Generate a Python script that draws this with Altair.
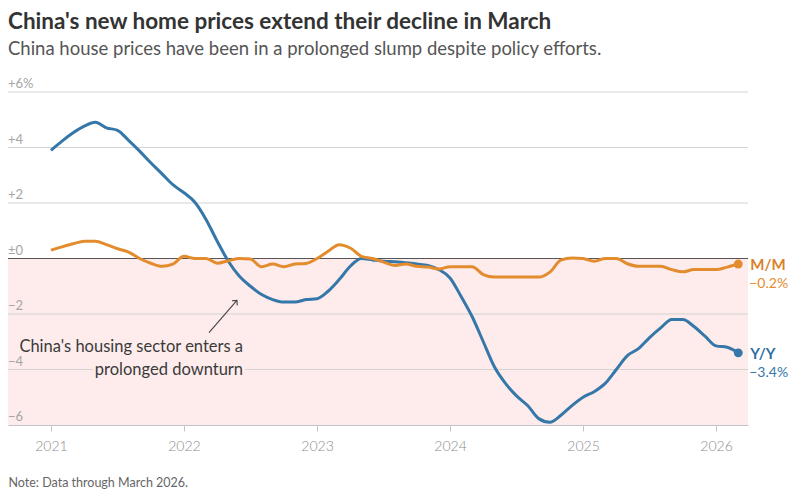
import altair as alt
import pandas as pd

# ---------------- data ----------------
start_year = 2021
yoy = [3.9, 4.23, 4.53, 4.77, 4.91, 4.71, 4.62, 4.26, 3.87, 3.45, 3.06, 2.66,
       2.37, 2.02, 1.4, 0.62, -0.1, -0.64, -1.0, -1.3, -1.48, -1.57, -1.57, -1.48,
       -1.45, -1.18, -0.76, -0.28, 0.0, -0.05, -0.1, -0.12, -0.15, -0.2, -0.25, -0.4,
       -0.7, -1.37, -2.1, -3.0, -3.9, -4.5, -4.95, -5.3, -5.77, -5.9, -5.65, -5.3,
       -5.0, -4.8, -4.5, -4.0, -3.5, -3.25, -2.85, -2.5, -2.2, -2.2, -2.45, -2.8,
       -3.15, -3.2, -3.4]
mom = [0.3, 0.42, 0.53, 0.62, 0.62, 0.5, 0.35, 0.23, 0.0, -0.17, -0.28, -0.2,
       0.08, 0.0, 0.0, -0.17, -0.08, 0.0, -0.02, -0.3, -0.2, -0.3, -0.2, -0.18,
       0.0, 0.26, 0.5, 0.38, 0.08, 0.0, -0.13, -0.25, -0.2, -0.28, -0.31, -0.38,
       -0.3, -0.3, -0.3, -0.58, -0.67, -0.67, -0.67, -0.67, -0.67, -0.49, -0.06, 0.02,
       0.0, -0.1, 0.0, 0.0, -0.19, -0.28, -0.28, -0.28, -0.4, -0.48, -0.4, -0.4,
       -0.4, -0.31, -0.2]
series_names = ["Y/Y", "M/M"]
series_colors = ["#3677aa", "#e38c2d"]
label_colors = ["#2f6ea3", "#d9822b"]
value_labels = ["\u22123.4%", "\u22120.2%"]
x_tick_years = [2021, 2022, 2023, 2024, 2025, 2026]
grid_values = [6, 4, 2, -2, -4]
y_label_values = [6, 4, 2, 0, -2, -4, -6]
y_label_texts = ["+6%", "+4", "+2", "\u00b10", "\u22122", "\u22124", "\u22126"]
annot_lines = ["China's housing sector enters a", "prolonged downturn"]
annot_y = [-3.2, -4.0]
annot_x = 2022.444
arrow_from = (2022.188, -2.67)
arrow_to = (2022.398, -1.51)

title = "China's new home prices extend their decline in March"
subtitle = "China house prices have been in a prolonged slump despite policy efforts."
note = "Note: Data through March 2026."

X_MIN, X_MAX = 2020.677, 2026.24
Y_MIN, Y_MAX = -6, 6
FONT = "Lato"

n = len(yoy)
t = [start_year + i / 12 for i in range(n)]
df = pd.DataFrame({
    "t": t + t,
    "v": yoy + mom,
    "s": ["Y/Y"] * n + ["M/M"] * n,
})
last = pd.DataFrame({
    "t": [t[-1], t[-1]],
    "v": [yoy[-1], mom[-1]],
    "s": series_names,
    "val": value_labels,
})

xs = alt.Scale(domain=[X_MIN, X_MAX], nice=False, zero=False)
ys = alt.Scale(domain=[Y_MIN, Y_MAX], nice=False, zero=False)
xaxis = alt.Axis(
    values=x_tick_years, format="d", labelFont=FONT, labelFontSize=14, labelColor="#8c8c8c",
    labelFontWeight=300, labelPadding=8, tickSize=6, tickColor="#c4c4c4", domainColor="#c4c4c4",
    grid=False,
    title=note, titleFont=FONT, titleFontSize=12.5, titleFontWeight="normal", titleColor="#666",
    titleAnchor="start", titleAlign="left", titleX=0, titleY=61, titleBaseline="alphabetic")
color = alt.Color("s:N", scale=alt.Scale(domain=series_names, range=series_colors), legend=None)
lcolor = alt.Color("s:N", scale=alt.Scale(domain=series_names, range=label_colors), legend=None)


def X(field):
    return alt.X(field, scale=xs, axis=xaxis)


def Y(field):
    return alt.Y(field, scale=ys, axis=None)


# pink negative-area band
band = alt.Chart(pd.DataFrame({"x": [X_MIN], "x2": [X_MAX], "y": [0], "y2": [Y_MIN]})).mark_rect(
    color="#fdeceb"
).encode(x=X("x:Q"), x2="x2:Q", y=Y("y:Q"), y2="y2:Q")

grid = alt.Chart(pd.DataFrame({"v": grid_values})).mark_rule(color="#d3d3d3", strokeWidth=1).encode(
    y=Y("v:Q")
)
zero = alt.Chart(pd.DataFrame({"v": [0]})).mark_rule(color="#555555", strokeWidth=1.2).encode(
    y=Y("v:Q")
)

annot_df = pd.DataFrame({"x": [annot_x] * 2, "y": annot_y, "txt": annot_lines})
annot_halo = alt.Chart(annot_df).mark_text(
    align="right", baseline="middle", font=FONT, fontSize=16.5, stroke="#fdeceb", strokeWidth=6,
    strokeJoin="round", color="#fdeceb"
).encode(x=X("x:Q"), y=Y("y:Q"), text="txt:N")
annot_text = alt.Chart(annot_df).mark_text(
    align="right", baseline="middle", font=FONT, fontSize=16.5, color="#3a3a3a"
).encode(x=X("x:Q"), y=Y("y:Q"), text="txt:N")

arrow = alt.Chart(pd.DataFrame({"x": [arrow_from[0]], "y": [arrow_from[1]],
                                "x2": [arrow_to[0]], "y2": [arrow_to[1]]})).mark_rule(
    color="#444444", strokeWidth=1.1
).encode(x=X("x:Q"), y=Y("y:Q"), x2="x2:Q", y2="y2:Q")
arrow_head = alt.Chart(pd.DataFrame({"x": [arrow_to[0]], "y": [arrow_to[1]]})).mark_point(
    shape="M-1,1L0,0L1,1", filled=False, size=50, angle=41, color="#444444", strokeWidth=1.1, opacity=1
).encode(x=X("x:Q"), y=Y("y:Q"))

lines = alt.Chart(df).mark_line(strokeWidth=3, strokeJoin="round", interpolate="monotone").encode(
    x=X("t:Q"), y=Y("v:Q"), color=color, detail="s:N",
)
dots = alt.Chart(last).mark_circle(size=80, opacity=1).encode(x=X("t:Q"), y=Y("v:Q"), color=color)
name_lbl = alt.Chart(last).mark_text(
    align="left", baseline="middle", dx=12, dy=1, font=FONT, fontSize=15, fontWeight="bold"
).encode(x=X("t:Q"), y=Y("v:Q"), text="s:N", color=lcolor)
val_lbl = alt.Chart(last).mark_text(
    align="left", baseline="middle", dx=11, dy=20, font=FONT, fontSize=14
).encode(x=X("t:Q"), y=Y("v:Q"), text="val:N", color=color)

ylab = alt.Chart(pd.DataFrame({"v": y_label_values, "txt": y_label_texts})).mark_text(
    align="left", baseline="alphabetic", dy=-4, font=FONT, fontSize=13, color="#a5a5a5"
).encode(x=alt.value(0), y=Y("v:Q"), text="txt:N")

chart = alt.layer(
    band, grid, zero, annot_halo, ylab, annot_text, arrow, arrow_head, lines, dots, name_lbl, val_lbl
).resolve_scale(color="independent").properties(
    width=740,
    height=333,
    autosize="none",
    padding={"left": 0, "top": 84, "right": 44, "bottom": 64},
    title=alt.TitleParams(
        text=title, subtitle=subtitle, anchor="start", frame="group",
        font=FONT, fontSize=22.5, fontWeight="bold", color="#333333",
        subtitleFont=FONT, subtitleFontSize=18.5, subtitleColor="#555555", subtitlePadding=6,
        offset=20,
    ),
).configure_view(stroke=None)

chart.save("out.html", embed_options={"renderer": "svg", "actions": False})
